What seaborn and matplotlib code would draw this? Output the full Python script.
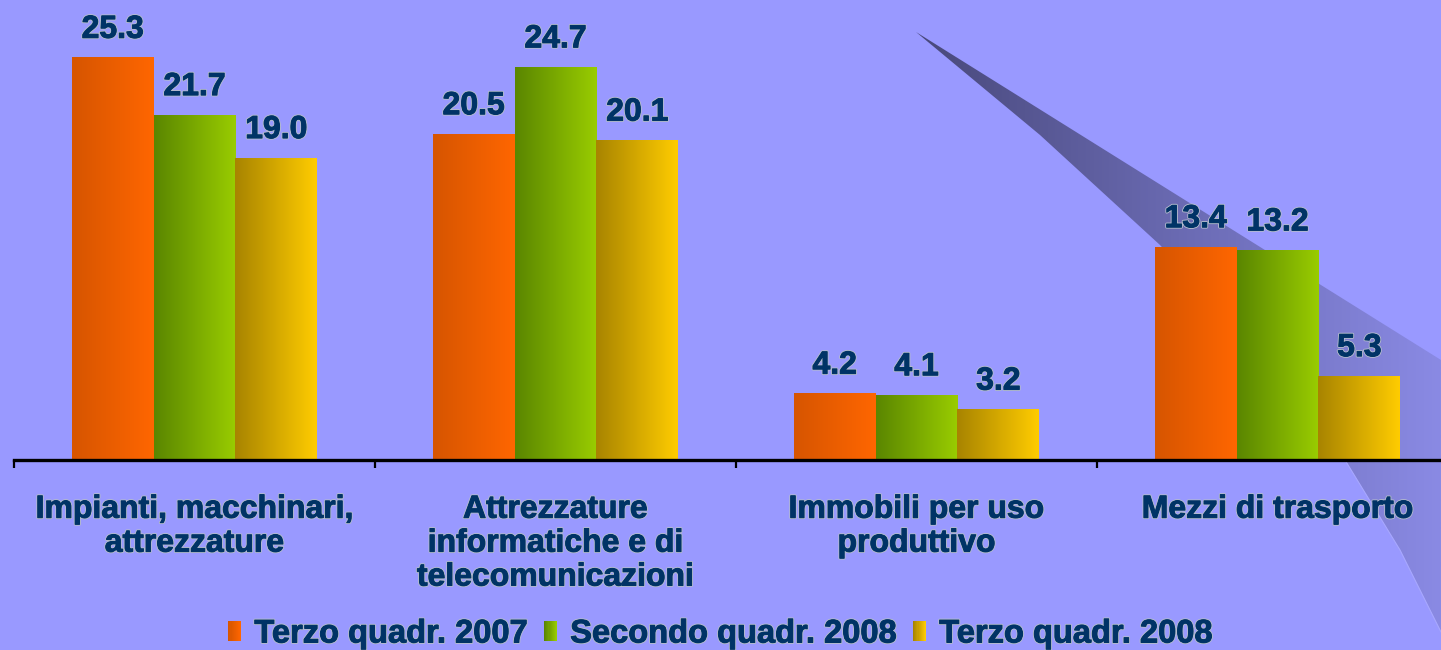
import numpy as np
import pandas as pd
import seaborn as sns
import matplotlib
matplotlib.use("Agg")
from matplotlib import pyplot as plt
from matplotlib.colors import LinearSegmentedColormap, to_rgb
from matplotlib.patches import Patch, Rectangle, Polygon
from matplotlib.legend_handler import HandlerBase
import matplotlib.patheffects as pe

# dati
categorie = [
    "Impianti, macchinari,\nattrezzature",
    "Attrezzature\ninformatiche e di\ntelecomunicazioni",
    "Immobili per uso\nproduttivo",
    "Mezzi di trasporto",
]
periodi = ["Terzo quadr. 2007", "Secondo quadr. 2008", "Terzo quadr. 2008"]
terzo_2007 = [25.3, 20.5, 4.2, 13.4]
secondo_2008 = [21.7, 24.7, 4.1, 13.2]
terzo_2008 = [19.0, 20.1, 3.2, 5.3]

# gradienti (sinistra -> destra)
gradienti = [
    ("#d65500", "#ff6600"),
    ("#5a8600", "#99cc00"),
    ("#a88400", "#ffcc00"),
]
sfondo = "#9999ff"
blu = "#003366"

df = pd.DataFrame({
    "Categoria": categorie * 3,
    "Periodo": [p for p in periodi for _ in categorie],
    "Valore": terzo_2007 + secondo_2008 + terzo_2008,
})

sns.set_theme(style="white")
plt.rcParams["font.family"] = ["Liberation Sans", "DejaVu Sans"]
plt.rcParams["font.weight"] = "bold"

fig = plt.figure(figsize=(14.41, 6.5), dpi=100)
fig.patch.set_facecolor(sfondo)

# decorazione sullo sfondo
bg = fig.add_axes([0, 0, 1, 1], zorder=-1)
bg.set_xlim(0, 1441)
bg.set_ylim(650, 0)
bg.axis("off")
pts = [(916, 32), (1441, 360), (1441, 632), (1400, 550), (1345, 460),
       (1260, 355), (1160, 245), (1040, 135)]
poly = Polygon(pts, closed=True, facecolor="none", edgecolor="none")
bg.add_patch(poly)
cm_bg = LinearSegmentedColormap.from_list("sw", ["#48487a", "#6a6ab2", "#8a8ae4"])
im = bg.imshow(np.linspace(0, 1, 256).reshape(1, -1), cmap=cm_bg, aspect="auto",
               extent=(916, 1441, 650, 0))
im.set_clip_path(poly)
bg.plot([1345, 1400, 1441], [460, 550, 632], color="#a8a8ff", lw=0.8)

ax = fig.add_axes([14 / 1441, 190 / 650, 1444 / 1441, 460 / 650])
ax.set_facecolor("none")

sns.barplot(data=df, x="Categoria", y="Valore", hue="Periodo", order=categorie,
            hue_order=periodi, width=0.68, gap=0, errorbar=None, legend=False,
            saturation=1, ax=ax)

effetto = [pe.Stroke(linewidth=2.0, foreground="#b4bccc"),
           pe.Stroke(linewidth=0.7, foreground=blu), pe.Normal()]

for cont, (c0, c1) in zip(ax.containers, gradienti):
    cm = LinearSegmentedColormap.from_list("g", [c0, c1])
    for bar in cont:
        bar.set_facecolor(c1)
        bar.set_edgecolor("none")
        x0 = bar.get_x()
        w = bar.get_width()
        h = bar.get_height()
        img = ax.imshow(np.linspace(0, 1, 128).reshape(1, -1), cmap=cm, aspect="auto",
                        extent=(x0, x0 + w, 0, h), zorder=bar.get_zorder() + 0.1)
        img.set_clip_path(bar)
    labs = ax.bar_label(cont, fmt="%.1f", padding=9, fontsize=23, fontweight="bold",
                        color=blu)
    for t in labs:
        t.set_path_effects(effetto)

ax.set_xlim(-0.5, 3.5)
ax.set_ylim(0, 28.9)

for s in ["left", "right", "top"]:
    ax.spines[s].set_visible(False)
ax.spines["bottom"].set_color("black")
ax.spines["bottom"].set_linewidth(2.4)
ax.set_yticks([])
ax.set_xticks([-0.5, 0.5, 1.5, 2.5, 3.5], [""] * 5)
ax.set_xticks(range(len(categorie)), categorie, minor=True)
ax.tick_params(axis="x", which="major", direction="out", length=6, width=1.6,
               color="black", bottom=True)
ax.tick_params(axis="x", which="minor", length=0, pad=25)
for t in ax.get_xticklabels(minor=True):
    t.set_fontsize(23)
    t.set_fontweight("bold")
    t.set_color(blu)
    t.set_linespacing(1.17)
    t.set_path_effects(effetto)
ax.set_xlabel("")
ax.set_ylabel("")


class GradHandler(HandlerBase):
    def create_artists(self, legend, orig_handle, xdescent, ydescent, width, height,
                       fontsize, trans):
        c0 = np.array(to_rgb(orig_handle.grad[0]))
        c1 = np.array(to_rgb(orig_handle.grad[1]))
        n = 12
        arts = []
        for k in range(n):
            col = c0 + (c1 - c0) * k / (n - 1)
            r = Rectangle((-xdescent + k * width / n, -ydescent), width / n * 1.05, height,
                          facecolor=col, edgecolor="none", transform=trans)
            arts.append(r)
        return arts


handles = []
for p, g in zip(periodi, gradienti):
    h = Patch(label=p)
    h.grad = g
    handles.append(h)

leg = fig.legend(handles=handles, loc="center", bbox_to_anchor=(0.5, 1 - 634 / 650),
                 ncol=3, frameon=False, fontsize=23.5, handlelength=0.4,
                 handleheight=0.55, handletextpad=0.4, columnspacing=0.5, borderpad=0,
                 handler_map={h: GradHandler() for h in handles})
for t in leg.get_texts():
    t.set_color(blu)
    t.set_fontweight("bold")
    t.set_path_effects(effetto)

plt.savefig("out.png", dpi=100, facecolor=fig.get_facecolor())
plt.close()
